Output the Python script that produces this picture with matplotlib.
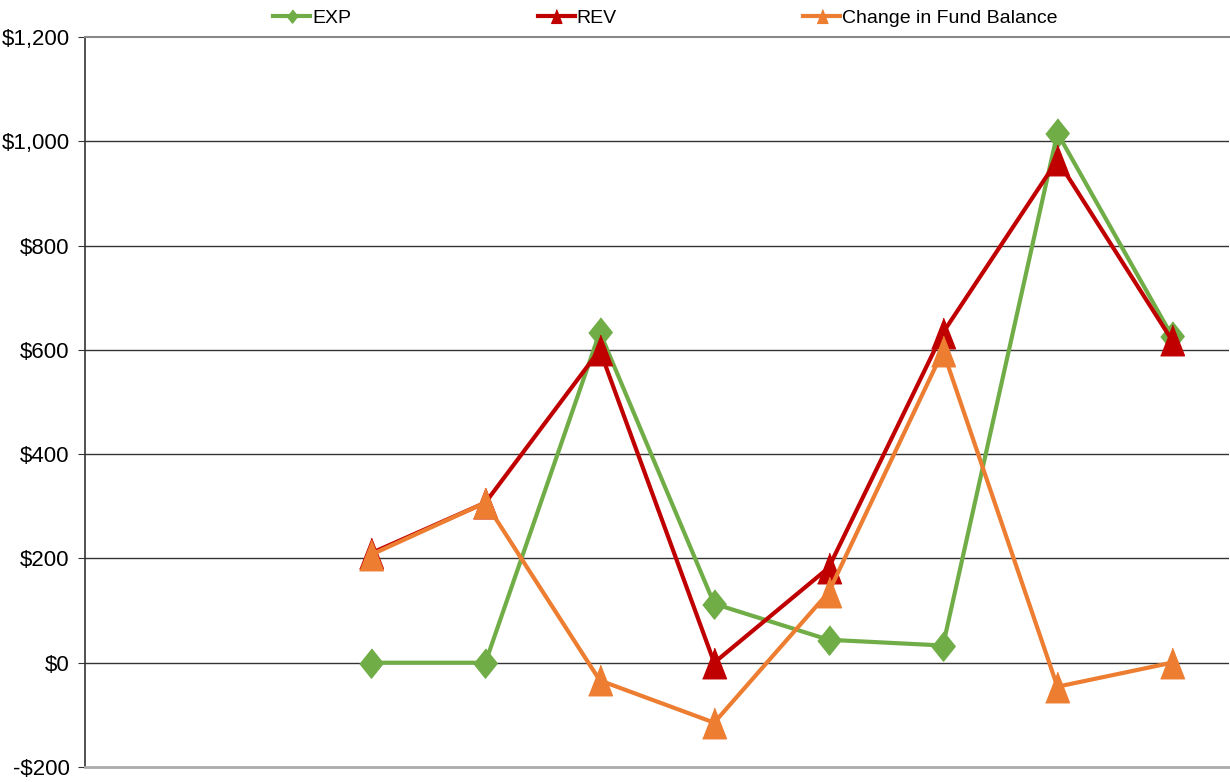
import matplotlib.pyplot as plt
from matplotlib.ticker import FuncFormatter

# ten category slots, the first two have no data
slots = list(range(10))
exp_vals = [None, None, 0, 0, 634, 113, 44, 33, 1016, 627]
rev_vals = [None, None, 210, 307, 600, 0, 182, 633, 964, 619]
chg_vals = [None, None, 207, 307, -34, -115, 135, 598, -46, 0]

plt.rcParams['font.family'] = ['Liberation Sans Narrow', 'Liberation Sans', 'DejaVu Sans']

fig = plt.figure(figsize=(12.3, 7.82), dpi=100)
ax = fig.add_axes([85 / 1230, 15 / 782, 1144 / 1230, 730 / 782])

def clean(vals):
    return [float('nan') if v is None else v for v in vals]

# tall-ish markers like the spreadsheet ones
diamond = [(0, 1), (0.8, 0), (0, -1), (-0.8, 0)]
tri = [(-0.78, -1), (0.78, -1), (0, 1)]

ax.plot(slots, clean(exp_vals), color='#70AD47', lw=3, marker=diamond, ms=21, label='EXP', zorder=3)
ax.plot(slots, clean(rev_vals), color='#C00000', lw=3, marker=tri, ms=22, label='REV', zorder=4)
ax.plot(slots, clean(chg_vals), color='#ED7D31', lw=3, marker=tri, ms=22,
        label='Change in Fund Balance', zorder=5)

ax.set_xlim(-0.5, 9.5)
ax.set_ylim(-200, 1200)
ax.set_yticks(range(-200, 1201, 200))
ax.yaxis.set_major_formatter(FuncFormatter(lambda v, p: f"-${abs(v):,.0f}" if v < 0 else f"${v:,.0f}"))
ax.tick_params(axis='y', labelsize=16, length=5, direction='out', color='#333333', pad=6)
ax.set_xticks([])

for y in range(0, 1001, 200):
    ax.axhline(y, color='#333333', lw=1.0, zorder=1)

ax.spines['right'].set_visible(False)
ax.spines['top'].set_color('#888888')
ax.spines['top'].set_linewidth(1.5)
ax.spines['bottom'].set_color('#aaaaaa')
ax.spines['bottom'].set_linewidth(2)
ax.spines['left'].set_color('#333333')
ax.spines['left'].set_linewidth(1.2)

leg = fig.legend(loc='upper center', bbox_to_anchor=(0.541, 1.01), ncol=3, frameon=False,
                 fontsize=14, handlelength=1.9, handletextpad=0.1, columnspacing=9.6,
                 markerscale=0.45)

fig.savefig('out.png', dpi=100)
